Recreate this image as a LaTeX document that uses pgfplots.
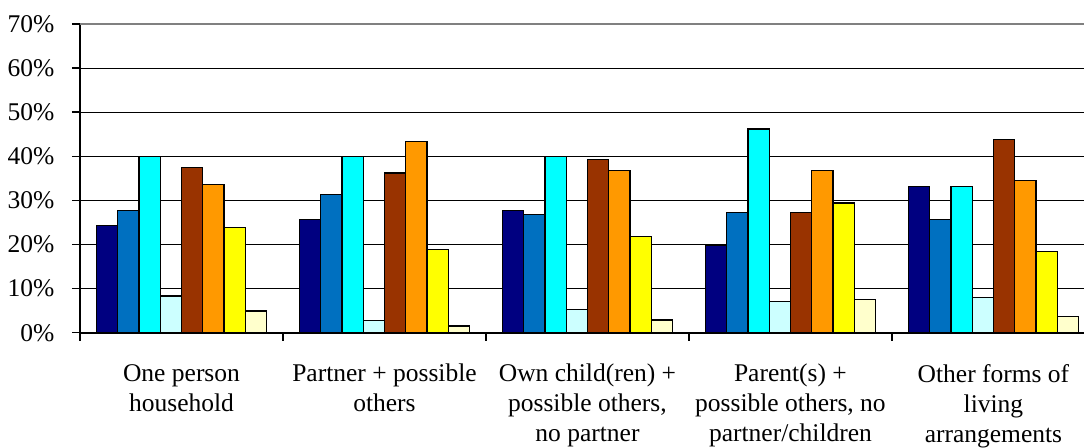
\documentclass[border=0pt]{standalone}
\usepackage{fontspec}
\setmainfont{Liberation Serif}
\usepackage{pgfplots}
\pgfplotsset{compat=1.18}
\definecolor{c1}{HTML}{000080}
\definecolor{c2}{HTML}{0070C0}
\definecolor{c3}{HTML}{00FFFF}
\definecolor{c4}{HTML}{CCFFFF}
\definecolor{c5}{HTML}{993300}
\definecolor{c6}{HTML}{FF9900}
\definecolor{c7}{HTML}{FFFF00}
\definecolor{c8}{HTML}{FFFFCC}
\begin{document}
\begin{tikzpicture}
\begin{axis}[
  at={(0pt,0pt)}, anchor=south west,
  scale only axis, width=1015pt, height=308.7pt,
  xmin=-0.5, xmax=4.5, ymin=0, ymax=70,
  axis x line=bottom, axis y line=left,
  axis line style={-, line width=2pt, black},
  xtick={-0.5,0.5,1.5,2.5,3.5,4.5},
  x tick label as interval,
  xticklabels={{One person\\household},{Partner + possible\\others},{Own child(ren) +\\possible others,\\no partner},{Parent(s) +\\possible others, no\\partner/children},{Other forms of\\living\\arrangements}},
  ytick={0,10,20,30,40,50,60},
  yticklabels={0\%,10\%,20\%,30\%,40\%,50\%,60\%},
  extra y ticks={70}, extra y tick labels={70\%},
  extra y tick style={grid style={draw=gray, line width=2.5pt}},
  ymajorgrids, grid style={black, line width=1.2pt},
  tick align=outside, major tick length=8pt,
  tick style={black, line width=1.5pt},
  ybar=0pt, bar width=21.25pt,
  tick label style={font=\fontsize{25.5}{30}\selectfont},
  yticklabel style={xshift=-14pt},
  xticklabel style={align=center, anchor=north, yshift=-20pt},
]
\addplot[fill=c1, draw=black, line width=1.2pt] coordinates {(0,24.3) (1,25.6) (2,27.8) (3,19.8) (4,33.2)};
\addplot[fill=c2, draw=black, line width=1.2pt] coordinates {(0,27.7) (1,31.4) (2,26.8) (3,27.3) (4,25.6)};
\addplot[fill=c3, draw=black, line width=1.2pt] coordinates {(0,40.0) (1,40.0) (2,40.0) (3,46.2) (4,33.2)};
\addplot[fill=c4, draw=black, line width=1.2pt] coordinates {(0,8.3) (1,2.8) (2,5.3) (3,7.1) (4,7.9)};
\addplot[fill=c5, draw=black, line width=1.2pt] coordinates {(0,37.4) (1,36.2) (2,39.2) (3,27.3) (4,43.8)};
\addplot[fill=c6, draw=black, line width=1.2pt] coordinates {(0,33.6) (1,43.3) (2,36.7) (3,36.7) (4,34.6)};
\addplot[fill=c7, draw=black, line width=1.2pt] coordinates {(0,23.9) (1,18.9) (2,21.8) (3,29.4) (4,18.5)};
\addplot[fill=c8, draw=black, line width=1.2pt] coordinates {(0,4.9) (1,1.5) (2,2.9) (3,7.5) (4,3.7)};
\end{axis}
\pgfresetboundingbox
\useasboundingbox (-80pt,-114.3pt) rectangle (1004pt,332.7pt);
\end{tikzpicture}
\end{document}
